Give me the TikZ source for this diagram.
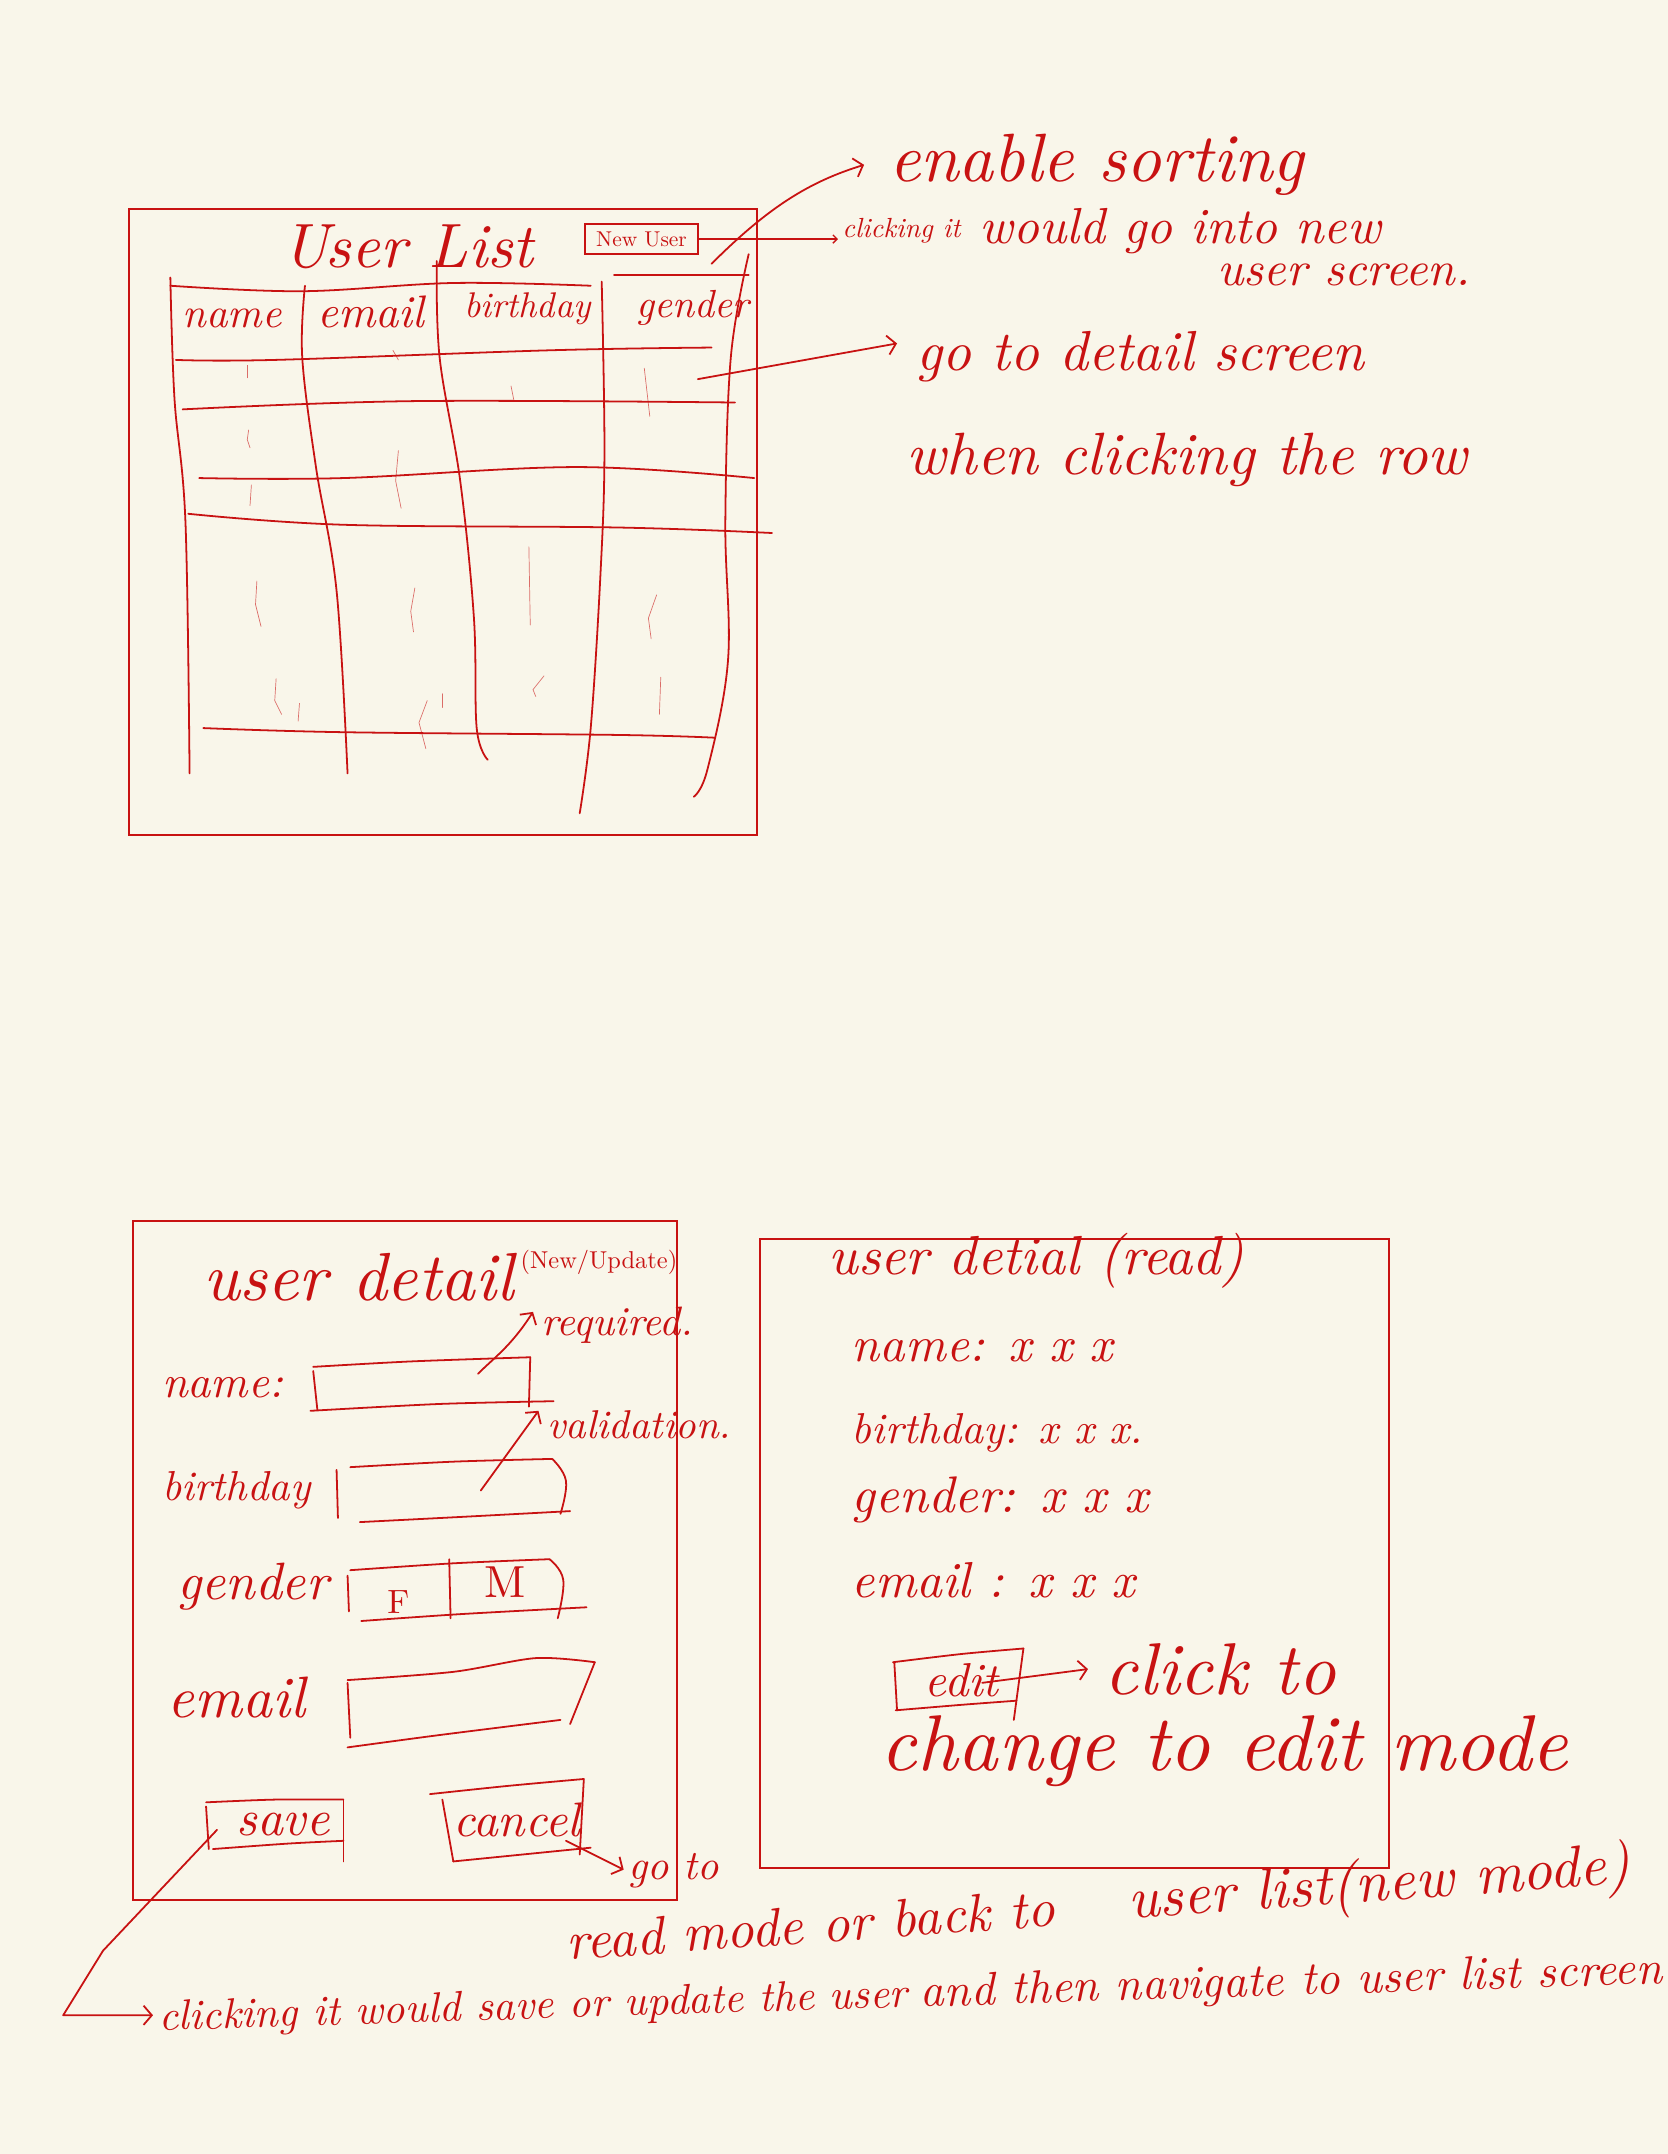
\documentclass[tikz,border=0pt]{standalone}
\usepackage{graphicx}
\usetikzlibrary{arrows.meta}
\definecolor{ink}{RGB}{200,18,18}
\definecolor{paper}{RGB}{249,246,234}
\newcommand\hwtext[2]{\resizebox{#1pt}{!}{#2}}
\begin{document}
\begin{tikzpicture}[x=1pt,y=-1pt,
  pen/.style={draw=ink,line width=1.3pt,line cap=round,line join=round},
  faint/.style={draw=ink,line width=0.5pt,line cap=round,opacity=0.6},
  frame/.style={draw=ink,line width=1.5pt,inner sep=0pt,fill=none},
  hw/.style={text=ink,inner sep=0pt,font=\itshape},
  barb/.style={-{Straight Barb[length=6pt,width=14pt,line width=1.3pt]}},
  smallbarb/.style={-{Straight Barb[length=3pt,width=6pt,line width=1pt]}}
]
\useasboundingbox (0,0) rectangle (1214,1568);
\fill[paper] (0,0) rectangle (1214,1568);

% ================= USER LIST =================
\node[frame,minimum width=457pt,minimum height=456pt] (listframe) at (322.5,380) {};
\node[hw] (listtitle) at (297,180) {\hwtext{183}{User List}};
\node[frame,line width=1.3pt,minimum width=82pt,minimum height=22pt] (newuser) at (467,174) {};
\node[hw,font=\upshape] (newusertxt) at (467,174) {\hwtext{66}{New User}};

% table lines
\draw[pen] plot[smooth,tension=0.6] coordinates {(124,202) (127,290) (135,380) (138,563)};
\draw[pen] plot[smooth,tension=0.6] coordinates {(124,208) (220,212) (330,206) (430,208)};
\draw[pen] (447,200) -- (545,200);
\draw[pen] plot[smooth,tension=0.6] coordinates {(222,208) (220,260) (230,340) (245,430) (253,563)};
\draw[pen] plot[smooth,tension=0.6] coordinates {(318,190) (320,260) (335,350) (345,450) (347,530) (355,553)};
\draw[pen] plot[smooth,tension=0.6] coordinates {(438,205) (440,330) (437,420) (430,530) (422,592)};
\draw[pen] plot[smooth,tension=0.6] coordinates {(545,185) (532,260) (528,380) (530,480) (515,560) (505,580)};
\draw[pen] plot[smooth,tension=0.6] coordinates {(128,262) (200,262) (400,255) (518,253)};
\draw[pen] plot[smooth,tension=0.6] coordinates {(133,298) (300,292) (535,293)};
\draw[pen] plot[smooth,tension=0.6] coordinates {(145,348) (250,348) (420,340) (549,348)};
\draw[pen] plot[smooth,tension=0.6] coordinates {(137,374) (250,382) (450,384) (562,388)};
\draw[pen] plot[smooth,tension=0.6] coordinates {(148,530) (250,533) (450,535) (520,537)};
% faint ticks
\draw[faint] (180,266) -- (180,275);
\draw[faint] (181,313) -- (180,320) -- (182,326);
\draw[faint] (183,353) -- (182,368);
\draw[faint] (187,423) -- (186,440) -- (190,456);
\draw[faint] (201,494) -- (200,510) -- (205,520);
\draw[faint] (218,512) -- (217,525);
\draw[faint] (286,255) -- (290,262);
\draw[faint] (290,328) -- (288,350) -- (292,370);
\draw[faint] (302,428) -- (299,445) -- (301,460);
\draw[faint] (311,510) -- (305,526) -- (310,545);
\draw[faint] (322,505) -- (322,515);
\draw[faint] (372,281) -- (374,291);
\draw[faint] (385,398) -- (386,455);
\draw[faint] (396,492) -- (388,502) -- (390,507);
\draw[faint] (469,268) -- (473,303);
\draw[faint] (478,433) -- (472,450) -- (474,465);
\draw[faint] (481,493) -- (480,520);

\node[hw] (hname) at (169,232) {\hwtext{72}{name}};
\node[hw] (hemail) at (270,227) {\hwtext{78}{email}};
\node[hw] (hbirth) at (384,225) {\hwtext{92}{birthday}};
\node[hw] (hgender) at (504,224) {\hwtext{82}{gender}};

% annotations on the right
\node[hw,anchor=west] (enable) at (647,120) {\hwtext{302}{enable sorting}};
\node[hw,anchor=west] (clk) at (613,168) {\hwtext{86}{clicking it}};
\node[hw,anchor=west] (would) at (713,168) {\hwtext{292}{would go into new}};
\node[hw,anchor=west] (userscreen) at (886,200) {\hwtext{184}{user screen.}};
\node[hw,anchor=west] (godetail) at (667,260) {\hwtext{326}{go to detail screen}};
\node[hw,anchor=west] (whenclick) at (660,335) {\hwtext{408}{when clicking the row}};

\coordinate (sortstart) at (518,192);
\coordinate (rowstart) at (508,276);
\draw[pen,smallbarb] (newuser.east) -- ([xshift=-3pt]newuser.east -| clk.west);
\draw[pen,barb] (sortstart) .. controls (560,150) and (590,132) .. ([xshift=-18pt]enable.west);
\draw[pen,barb] (rowstart) -- ([xshift=-14pt,yshift=10pt]godetail.west);

% ================= USER DETAIL (NEW/UPDATE) =================
\node[frame,minimum width=396pt,minimum height=494pt] (editframe) at (295,1136) {};
\node[hw] (edtitle) at (261,930) {\hwtext{226}{user detail}};
\node[hw,font=\upshape] (edmode) at (436,919) {\hwtext{114}{(New/Update)}};

\node[hw] (lname) at (162,1010) {\hwtext{88}{name:}};
\node[hw] (lbirth) at (172,1085) {\hwtext{108}{birthday}};
\node[hw] (lgender) at (184,1155) {\hwtext{110}{gender}};
\node[hw] (lemail) at (172,1236) {\hwtext{100}{email}};

% name input
\draw[pen] plot[smooth,tension=0.5] coordinates {(228,995) (300,991) (386,988)};
\draw[pen] (386,988) -- (385,1024);
\draw[pen] plot[smooth,tension=0.5] coordinates {(226,1027) (320,1022) (403,1020)};
\draw[pen] (228,998) -- (231,1026);
% birthday input
\draw[pen] plot[smooth,tension=0.5] coordinates {(255,1068) (330,1064) (402,1062)};
\draw[pen] plot[smooth,tension=0.7] coordinates {(402,1062) (412,1078) (408,1102)};
\draw[pen] plot[smooth,tension=0.5] coordinates {(262,1108) (340,1104) (415,1100)};
\draw[pen] (245,1070) -- (246,1105);
% gender input
\draw[pen] plot[smooth,tension=0.5] coordinates {(255,1143) (330,1138) (400,1135)};
\draw[pen] plot[smooth,tension=0.7] coordinates {(400,1135) (410,1150) (406,1178)};
\draw[pen] plot[smooth,tension=0.5] coordinates {(263,1180) (335,1175) (427,1170)};
\draw[pen] (253,1147) -- (254,1173);
\draw[pen] (327,1135) -- (328,1178);
\node[hw,font=\upshape] (gF) at (290,1166) {\hwtext{16}{F}};
\node[hw,font=\upshape] (gM) at (368,1152) {\hwtext{30}{M}};
% email input
\draw[pen] plot[smooth,tension=0.5] coordinates {(253,1223) (330,1217) (390,1207) (433,1210)};
\draw[pen] (433,1210) -- (415,1255);
\draw[pen] plot[smooth,tension=0.5] coordinates {(253,1272) (320,1263) (408,1252)};
\draw[pen] (253,1225) -- (255,1265);
% save button
\draw[pen] plot[smooth,tension=0.5] coordinates {(150,1312) (200,1310) (250,1310)};
\draw[pen] (250,1310) -- (250,1355);
\draw[pen] plot[smooth,tension=0.5] coordinates {(155,1346) (210,1342) (250,1340)};
\draw[pen] (150,1315) -- (152,1346);
\node[hw] (save) at (206,1328) {\hwtext{68}{save}};
% cancel button
\draw[pen] plot[smooth,tension=0.5] coordinates {(313,1306) (370,1300) (425,1295)};
\draw[pen] (425,1295) -- (422,1350);
\draw[pen] plot[smooth,tension=0.5] coordinates {(330,1355) (380,1350) (430,1345)};
\draw[pen] (322,1310) -- (330,1355);
\node[hw] (cancel) at (376,1325) {\hwtext{92}{cancel}};

% required / validation notes
\node[hw,anchor=west] (required) at (394,965) {\hwtext{110}{required.}};
\node[hw,anchor=west] (validation) at (398,1037) {\hwtext{134}{validation.}};
\coordinate (reqstart) at (348,1000);
\coordinate (valstart) at (350,1085);
\draw[pen,barb] (reqstart) .. controls (360,988) and (372,980) .. ([xshift=-6pt,yshift=10pt]required.west);
\draw[pen,barb] (valstart) -- ([xshift=-6pt,yshift=10pt]validation.west);

% cancel note
\node[hw,anchor=west] (goto) at (457,1362) {\hwtext{66}{go to}};
\node[hw,rotate=4] (readmodeA) at (590,1401) {\hwtext{356}{read mode or back to}};
\node[hw,rotate=4] (readmodeB) at (1004,1373) {\hwtext{366}{user list(new mode)}};
\coordinate (cancelstart) at (412,1340);
\draw[pen,barb] (cancelstart) -- ([xshift=-3pt,yshift=1pt]goto.west);

% save note
\node[hw,rotate=1.8] (savenoteA) at (388,1462) {\hwtext{545}{clicking it would save or update the user}};
\node[hw,rotate=1.8] (savenoteB) at (940,1444) {\hwtext{540}{and then navigate to user list screen}};
\coordinate (savestart) at (158,1332);
\coordinate (savebend) at (75,1420);
\coordinate (savecorner) at (46,1467);
\draw[pen,barb] (savestart) -- (savebend) -- (savecorner) -- ([xshift=-10pt]savenoteA.west |- savecorner) -- ++(6,0);

% ================= USER DETAIL (READ) =================
\node[frame,minimum width=458pt,minimum height=458pt] (readframe) at (782,1131) {};
\node[hw,anchor=west] (rdtitle) at (603,918) {\hwtext{302}{user detial (read)}};
\node[hw,anchor=west] (rname) at (620,983) {\hwtext{190}{name: x x x}};
\node[hw,anchor=west] (rbirth) at (620,1043) {\hwtext{212}{birthday: x x x.}};
\node[hw,anchor=west] (rgender) at (620,1092) {\hwtext{216}{gender: x x x}};
\node[hw,anchor=west] (remail) at (620,1150) {\hwtext{206}{email : x x x}};

% edit button
\draw[pen] plot[smooth,tension=0.5] coordinates {(650,1210) (700,1204) (745,1200)};
\draw[pen] (745,1200) -- (738,1252);
\draw[pen] plot[smooth,tension=0.5] coordinates {(652,1245) (700,1241) (740,1238)};
\draw[pen] (651,1210) -- (653,1245);
\node[hw] (edit) at (700,1223) {\hwtext{54}{edit}};
\node[hw,anchor=west] (clickto) at (804,1215) {\hwtext{168}{click to}};
\node[hw,anchor=west] (changemode) at (641,1275) {\hwtext{500}{change to edit mode}};
\coordinate (editstart) at (715,1225);
\draw[pen,barb] (editstart) -- ([xshift=-12pt]clickto.west);
\end{tikzpicture}
\end{document}
